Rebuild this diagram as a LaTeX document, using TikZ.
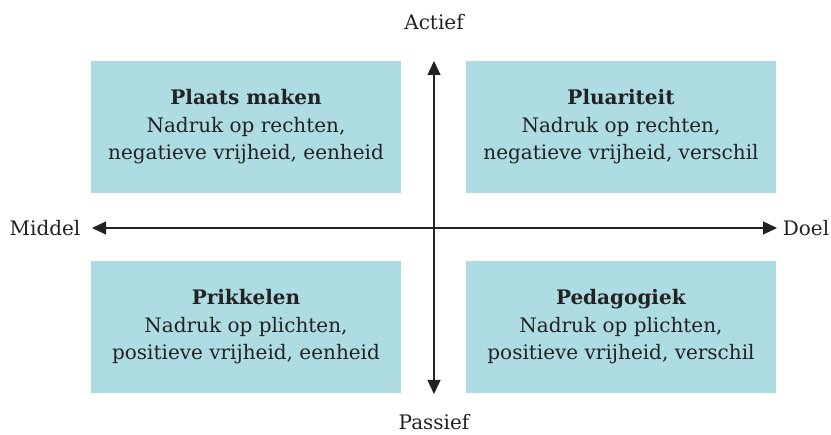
\documentclass[tikz,border=0pt]{standalone}
\usepackage{fontspec}
\setmainfont{DejaVu Serif}
\usetikzlibrary{arrows.meta}
\definecolor{quadblue}{HTML}{ADDDE3}
\definecolor{inkgrey}{HTML}{222222}

\begin{document}
\begin{tikzpicture}[
            x=1pt, y=1pt,
            align=center,
            text=inkgrey,
            quadrant/.style={fill=quadblue, minimum width=310pt, minimum height=132pt,
              font=\fontsize{20}{27.5}\selectfont, inner sep=0pt},
            axislabel/.style={font=\fontsize{20}{24}\selectfont},
            axis/.style={draw=inkgrey, line width=1.2pt, {Triangle[length=14pt,width=13pt]}-{Triangle[length=14pt,width=13pt]}},
          ]
          \useasboundingbox (0,0) rectangle (831,435);
          % the four fields
          \node[quadrant] (plaats) at (246,308) {\textbf{Plaats maken}\\Nadruk op rechten,\\negatieve vrijheid, eenheid};
          \node[quadrant] (pluraliteit) at (621,308) {\textbf{Pluariteit}\\Nadruk op rechten,\\negatieve vrijheid, verschil};
          \node[quadrant] (prikkelen) at (246,108) {\textbf{Prikkelen}\\Nadruk op plichten,\\positieve vrijheid, eenheid};
          \node[quadrant] (pedagogiek) at (621,108) {\textbf{Pedagogiek}\\Nadruk op plichten,\\positieve vrijheid, verschil};
          % axes
          \coordinate (top) at (434,374);
          \coordinate (bottom) at (434,41);
          \coordinate (left) at (92,207);
          \coordinate (right) at (777,207);
          \draw[axis] (bottom) -- (top);
          \draw[axis] (left) -- (right);
          \node[axislabel] (actief) at (434,413) {Actief};
          \node[axislabel] (passief) at (434,13) {Passief};
          \node[axislabel] (middel) at (45,207) {Middel};
          \node[axislabel] (doel) at (806,207) {Doel};
          \end{tikzpicture}
\end{document}
